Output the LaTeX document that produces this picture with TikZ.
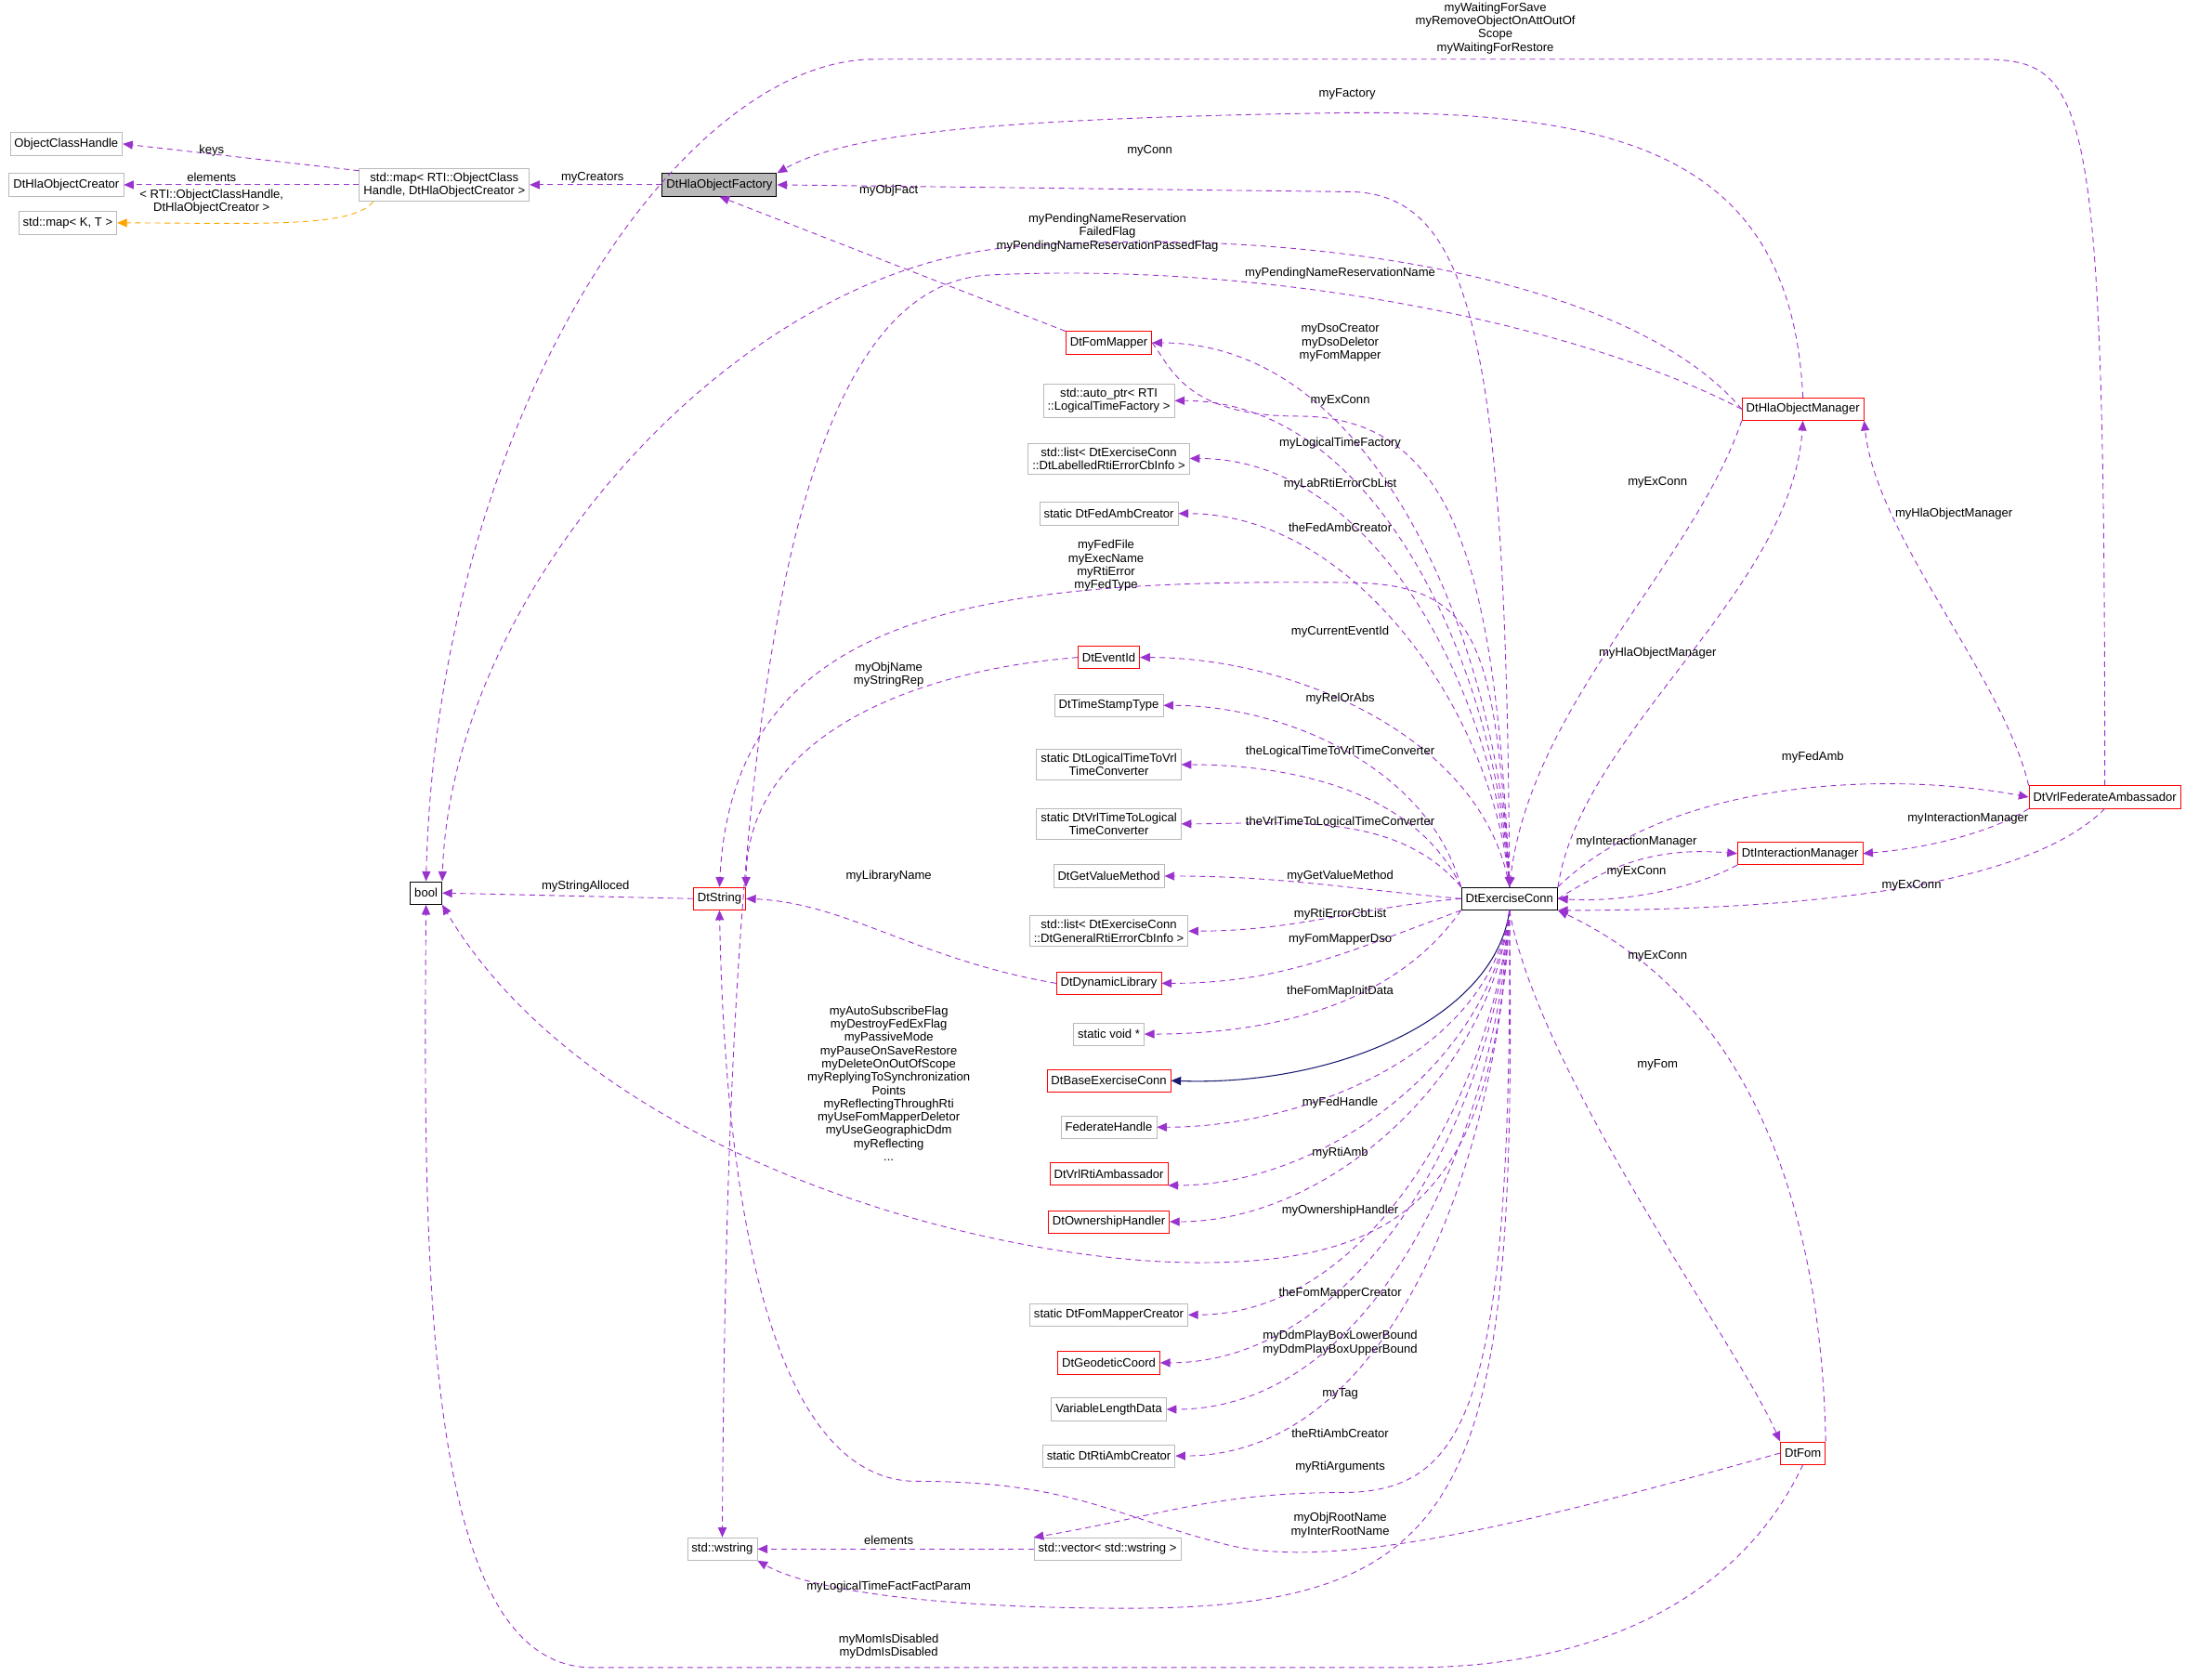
\documentclass[tikz,border=0pt]{standalone}
\usepackage{fontspec}
\setmainfont{Liberation Sans}
\usetikzlibrary{arrows.meta}
\definecolor{dep}{HTML}{9A32CD}
\definecolor{tmpl}{HTML}{FFA500}
\definecolor{inh}{HTML}{191970}
\begin{document}
\begin{tikzpicture}[x=1pt,y=-1pt,
 every node/.style={font=\fontsize{8.6}{9.4}\selectfont},
 box/.style={draw=gray!55,fill=white,inner sep=3pt,minimum height=16pt,align=center,line width=0.5pt},
 rbox/.style={box,draw=red},
 kbox/.style={box,draw=black,line width=0.7pt},
 lbl/.style={align=center,inner sep=0.5pt},
 dep/.style={draw=dep,dashed,line width=0.6pt,-{Triangle[length=7pt,width=6pt]},dash pattern=on 4pt off 3pt},
 tp/.style={dep,draw=tmpl,-{Triangle[length=7pt,width=6pt,fill=tmpl]}},
 inh/.style={draw=inh,line width=0.7pt,-{Triangle[length=7pt,width=6pt]}}]
\useasboundingbox (0,0) rectangle (1568,1188);
% nodes
\node[box] (och) at (47,102) {ObjectClassHandle};
\node[box] (hoc) at (47,131) {DtHlaObjectCreator};
\node[box] (mkt) at (48,158) {std::map< K, T >};
\node[box] (smap) at (315,131) {std::map< RTI::ObjectClass\\Handle, DtHlaObjectCreator >};
\node[kbox,fill=gray!55] (fac) at (510,131) {DtHlaObjectFactory};
\node[kbox] (bool) at (302,633) {bool};
\node[rbox] (ds) at (510,637) {DtString};
\node[box] (ws) at (512,1098) {std::wstring};
\node[box] (vec) at (785,1098) {std::vector< std::wstring >};
\node[rbox] (fm) at (786,243) {DtFomMapper};
\node[box] (ap) at (786,284) {std::auto\_ptr< RTI\\::LogicalTimeFactory >};
\node[box] (ll) at (786,325) {std::list< DtExerciseConn\\::DtLabelledRtiErrorCbInfo >};
\node[box] (fac2) at (786,364) {static DtFedAmbCreator};
\node[rbox] (eid) at (786,466) {DtEventId};
\node[box] (tst) at (786,500) {DtTimeStampType};
\node[box] (ltv) at (786,542) {static DtLogicalTimeToVrl\\TimeConverter};
\node[box] (vtl) at (786,584) {static DtVrlTimeToLogical\\TimeConverter};
\node[box] (gvm) at (786,621) {DtGetValueMethod};
\node[box] (lg) at (786,660) {std::list< DtExerciseConn\\::DtGeneralRtiErrorCbInfo >};
\node[rbox] (dl) at (786,697) {DtDynamicLibrary};
\node[box] (sv) at (786,733) {static void *};
\node[rbox] (bec) at (786,766) {DtBaseExerciseConn};
\node[box] (fh) at (786,799) {FederateHandle};
\node[rbox] (vra) at (786,832) {DtVrlRtiAmbassador};
\node[rbox] (oh) at (786,866) {DtOwnershipHandler};
\node[box] (fmc) at (786,932) {static DtFomMapperCreator};
\node[rbox] (gc) at (786,966) {DtGeodeticCoord};
\node[box] (vld) at (786,999) {VariableLengthData};
\node[box] (rac) at (786,1032) {static DtRtiAmbCreator};
\node[kbox] (ec) at (1070,637) {DtExerciseConn};
\node[rbox] (hom) at (1278,290) {DtHlaObjectManager};
\node[rbox] (im) at (1276,605) {DtInteractionManager};
\node[rbox] (vfa) at (1492,565) {DtVrlFederateAmbassador};
\node[rbox] (fom) at (1278,1030) {DtFom};
% left cluster
\draw[dep] (smap.west) ++(0,-10) coordinate (s1) (s1) -- (och.east);
\draw[dep] (smap.west) -- (hoc.east);
\draw[tp] (smap.south west) ++(10,0) coordinate (s2) (s2) .. controls (250,162) and (180,158) .. (mkt.east);
\node[lbl] (lkeys) at (150,107) {keys};
\node[lbl] (lel) at (150,126) {elements};
\node[lbl] (ltmp) at (150,143) {< RTI::ObjectClassHandle,\\DtHlaObjectCreator >};
\draw[dep] (fac.west) -- (smap.east);
\node[lbl] (lcr) at (420,126) {myCreators};
% top long edges
\draw[dep] (vfa.north) .. controls (1492,55) and (1480,42) .. (1400,42) -- (620,42) .. controls (480,42) and (310,300) .. (bool.north);
\node[lbl] (lwait) at (1060,20) {myWaitingForSave\\myRemoveObjectOnAttOutOf\\Scope\\myWaitingForRestore};
\draw[dep] (hom.north) .. controls (1270,110) and (1150,78) .. (950,80) .. controls (700,84) and (600,95) .. (fac.north east);
\node[lbl] (lfac) at (955,67) {myFactory};
\draw[dep] (ec.north) .. controls (1068,250) and (1045,140) .. (960,136) -- (fac.east);
\node[lbl] (lconn) at (815,107) {myConn};
\draw[dep] (fm.north west) -- (fac.south);
\node[lbl] (lof) at (630,135) {myObjFact};
\draw[dep] (hom.west) .. controls (1150,190) and (900,160) .. (720,175) .. controls (520,190) and (320,420) .. (bool.north east);
\node[lbl] (lpnr) at (785,165) {myPendingNameReservation\\FailedFlag\\myPendingNameReservationPassedFlag};
\draw[dep] (hom.west) .. controls (1120,230) and (900,185) .. (700,195) .. controls (540,205) and (515,600) .. (ws.north);
\node[lbl] (lpnn) at (950,194) {myPendingNameReservationName};
% fan above
\draw[dep] (ec.north) to[out=92,in=0,looseness=0.9] (fm.east);
\draw[dep] (fm.east) .. controls (830,260) and (840,295) .. (920,295) .. controls (1030,295) and (1060,400) .. (ec.north);
\node[lbl] (ldso) at (950,243) {myDsoCreator\\myDsoDeletor\\myFomMapper};
\node[lbl] (lex1) at (950,284) {myExConn};
\draw[dep] (ec.north) to[out=93,in=0,looseness=0.9] (ap.east);
\node[lbl] (llt) at (950,314) {myLogicalTimeFactory};
\draw[dep] (ec.north) to[out=94,in=0,looseness=0.9] (ll.east);
\node[lbl] (llab) at (950,343) {myLabRtiErrorCbList};
\draw[dep] (ec.north) to[out=95,in=0,looseness=0.9] (fac2.east);
\node[lbl] (lfa) at (950,374) {theFedAmbCreator};
\draw[dep] (ec.north) .. controls (1060,460) and (1050,415) .. (960,413) .. controls (700,410) and (520,430) .. (ds.north);
\node[lbl] (lfed) at (784,401) {myFedFile\\myExecName\\myRtiError\\myFedType};
\draw[dep] (ec.north) to[out=100,in=0,looseness=0.9] (eid.east);
\node[lbl] (lcur) at (950,448) {myCurrentEventId};
\draw[dep] (eid.west) .. controls (650,475) and (530,520) .. (ds.north east);
\node[lbl] (lobj) at (630,478) {myObjName\\myStringRep};
\draw[dep] (ec.north west) to[out=105,in=0,looseness=0.9] (tst.east);
\node[lbl] (lrel) at (950,495) {myRelOrAbs};
\draw[dep] (ec.north west) to[out=115,in=0,looseness=0.9] (ltv.east);
\node[lbl] (lltv) at (950,533) {theLogicalTimeToVrlTimeConverter};
\draw[dep] (ec.north west) to[out=130,in=0,looseness=0.9] (vtl.east);
\node[lbl] (lvtl) at (950,583) {theVrlTimeToLogicalTimeConverter};
\draw[dep] (ec.west) to[out=175,in=0] (gvm.east);
\node[lbl] (lgvm) at (950,621) {myGetValueMethod};
\draw[dep] (ec.west) to[out=185,in=0] (lg.east);
\node[lbl] (lrcb) at (950,648) {myRtiErrorCbList};
\draw[dep] (ec.south west) to[out=200,in=0] (dl.east);
\node[lbl] (lfmd) at (950,666) {myFomMapperDso};
\draw[dep] (dl.west) .. controls (650,680) and (600,640) .. (ds.east);
\node[lbl] (llib) at (630,621) {myLibraryName};
\draw[dep] (ds.west) -- (bool.east);
\node[lbl] (lsa) at (415,628) {myStringAlloced};
\draw[dep] (ec.south west) to[out=235,in=0,looseness=0.9] (sv.east);
\node[lbl] (lfmi) at (950,703) {theFomMapInitData};
\draw[inh] (ec.south) .. controls (1060,720) and (950,770) .. (bec.east);
% fan below
\draw[dep] (ec.south) to[out=262,in=0,looseness=0.9] (fh.east);
\node[lbl] (lfh) at (950,782) {myFedHandle};
\draw[dep] (ec.south) to[out=263,in=0,looseness=0.9] (vra.south east);
\node[lbl] (lra) at (950,817) {myRtiAmb};
\draw[dep] (ec.south) to[out=264,in=0,looseness=0.9] (oh.east);
\node[lbl] (loh) at (950,858) {myOwnershipHandler};
\draw[dep] (ec.south) .. controls (1060,840) and (1000,895) .. (850,895) .. controls (700,895) and (420,820) .. (bool.south east);
\node[lbl] (lbig) at (630,768) {myAutoSubscribeFlag\\myDestroyFedExFlag\\myPassiveMode\\myPauseOnSaveRestore\\myDeleteOnOutOfScope\\myReplyingToSynchronization\\Points\\myReflectingThroughRti\\myUseFomMapperDeletor\\myUseGeographicDdm\\myReflecting\\...};
\draw[dep] (ec.south) to[out=265,in=0,looseness=0.9] (fmc.east);
\node[lbl] (lfmc) at (950,917) {theFomMapperCreator};
\draw[dep] (ec.south) to[out=266,in=0,looseness=0.9] (gc.east);
\node[lbl] (lgc) at (950,952) {myDdmPlayBoxLowerBound\\myDdmPlayBoxUpperBound};
\draw[dep] (ec.south) to[out=267,in=0,looseness=0.9] (vld.east);
\node[lbl] (ltag) at (950,988) {myTag};
\draw[dep] (ec.south) to[out=268,in=0,looseness=0.9] (rac.east);
\node[lbl] (lrac) at (950,1016) {theRtiAmbCreator};
\draw[dep] (ec.south) .. controls (1072,1000) and (1040,1058) .. (950,1058) .. controls (860,1058) and (820,1075) .. (vec.north west);
\node[lbl] (lrarg) at (950,1040) {myRtiArguments};
\draw[dep] (fom.west) .. controls (1100,1075) and (950,1115) .. (870,1095) .. controls (790,1075) and (760,1050) .. (650,1050) .. controls (560,1050) and (515,900) .. (ds.south);
\node[lbl] (lroot) at (950,1081) {myObjRootName\\myInterRootName};
\draw[dep] (vec.west) -- (ws.east);
\node[lbl] (lel2) at (630,1092) {elements};
\draw[dep] (ec.south) .. controls (1075,1050) and (1050,1140) .. (800,1140) .. controls (650,1140) and (570,1125) .. (ws.south east);
\node[lbl] (lltf) at (630,1125) {myLogicalTimeFactFactParam};
\draw[dep] (fom.south) .. controls (1240,1120) and (1150,1182) .. (1000,1182) -- (420,1182) .. controls (300,1182) and (300,900) .. (bool.south);
\node[lbl] (lmom) at (630,1167) {myMomIsDisabled\\myDdmIsDisabled};
% right side
\draw[dep] (ec.north east) .. controls (1120,520) and (1270,420) .. (hom.south);
\node[lbl] (lhom) at (1175,463) {myHlaObjectManager};
\draw[dep] (hom.south west) .. controls (1200,400) and (1085,500) .. (ec.north);
\node[lbl] (lex2) at (1175,342) {myExConn};
\draw[dep] (vfa.north west) .. controls (1420,480) and (1330,380) .. (hom.south east);
\node[lbl] (lhom2) at (1385,364) {myHlaObjectManager};
\draw[dep] (ec.north east) .. controls (1180,555) and (1330,545) .. (vfa.west);
\node[lbl] (lfa2) at (1285,537) {myFedAmb};
\draw[dep] (vfa.south west) .. controls (1420,585) and (1380,600) .. (im.east);
\node[lbl] (lim) at (1395,580) {myInteractionManager};
\draw[dep] (ec.east) .. controls (1140,615) and (1170,600) .. (im.west);
\node[lbl] (lim2) at (1160,597) {myInteractionManager};
\draw[dep] (im.south west) .. controls (1200,630) and (1150,640) .. (ec.east);
\node[lbl] (lex3) at (1160,618) {myExConn};
\draw[dep] (vfa.south) .. controls (1440,625) and (1300,645) .. (ec.south east);
\node[lbl] (lex4) at (1355,628) {myExConn};
\draw[dep] (fom.north east) .. controls (1290,820) and (1220,700) .. (ec.south east);
\node[lbl] (lex5) at (1175,678) {myExConn};
\draw[dep] (ec.south) .. controls (1090,760) and (1230,950) .. (fom.north west);
\node[lbl] (lfom) at (1175,755) {myFom};
\end{tikzpicture}
\end{document}
